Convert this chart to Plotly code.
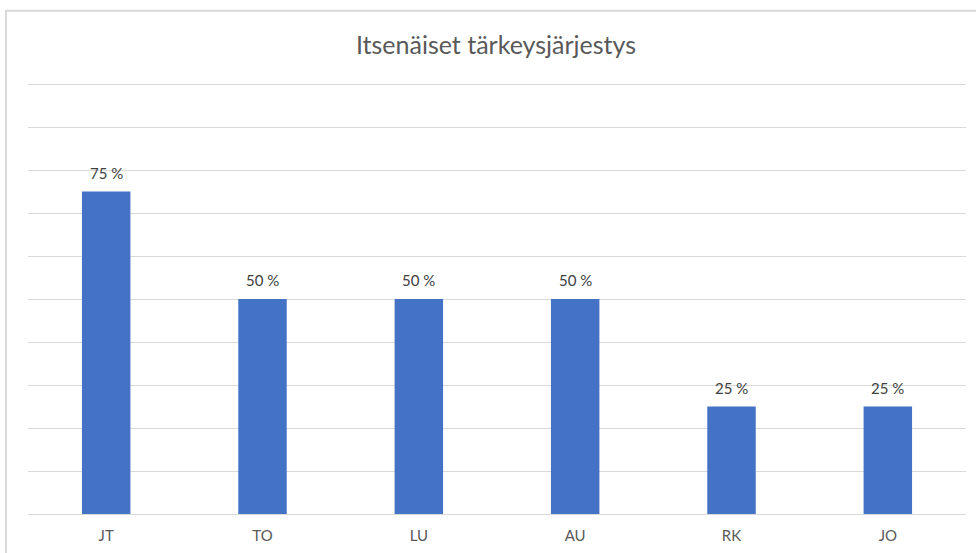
import plotly.graph_objects as go

# Share of respondents per category (percent)
categories = ["JT", "TO", "LU", "AU", "RK", "JO"]
values = [75, 50, 50, 50, 25, 25]
title_text = "Itsenäiset tärkeysjärjestys"

bar_color = "#4472C4"
grid_color = "#D9D9D9"
text_color = "#595959"
font_family = "Lato, 'Open Sans', sans-serif"

fig = go.Figure(
    go.Bar(
        x=categories,
        y=values,
        marker=dict(color=bar_color, line=dict(width=0)),
        hoverinfo="x+y",
    )
)

# Value labels above each bar
for cat, val in zip(categories, values):
    fig.add_annotation(
        x=cat, y=val, text=f"{val} %", showarrow=False,
        yanchor="bottom", yshift=8,
        font=dict(family=font_family, size=15, color="#404040"),
    )

# Light frame around the whole chart
fig.add_shape(
    type="rect", xref="paper", yref="paper",
    x0=-0.0235, x1=1.03, y0=-0.12, y1=1.165,
    line=dict(color=grid_color, width=2), fillcolor="rgba(0,0,0,0)",
    layer="below",
)

fig.update_layout(
    width=976, height=553,
    margin=dict(l=28, r=10, t=82, b=39),
    paper_bgcolor="white", plot_bgcolor="white",
    bargap=0.69,
    showlegend=False,
    title=dict(
        text=title_text, x=496 / 976, xanchor="center", y=1 - 45 / 553, yanchor="middle",
        font=dict(family=font_family, size=25, color=text_color),
    ),
    font=dict(family=font_family, color=text_color),
    xaxis=dict(
        showgrid=False, showline=True, linecolor=grid_color, linewidth=1,
        ticks="", tickfont=dict(size=15, color=text_color),
        ticklabelstandoff=8,
        fixedrange=True,
    ),
    yaxis=dict(
        range=[0, 100.5], tickvals=list(range(10, 101, 10)),
        showgrid=True, gridcolor=grid_color, gridwidth=1,
        showticklabels=False, zeroline=False, showline=False, ticks="",
        fixedrange=True,
    ),
)

fig.write_html("out.html")
